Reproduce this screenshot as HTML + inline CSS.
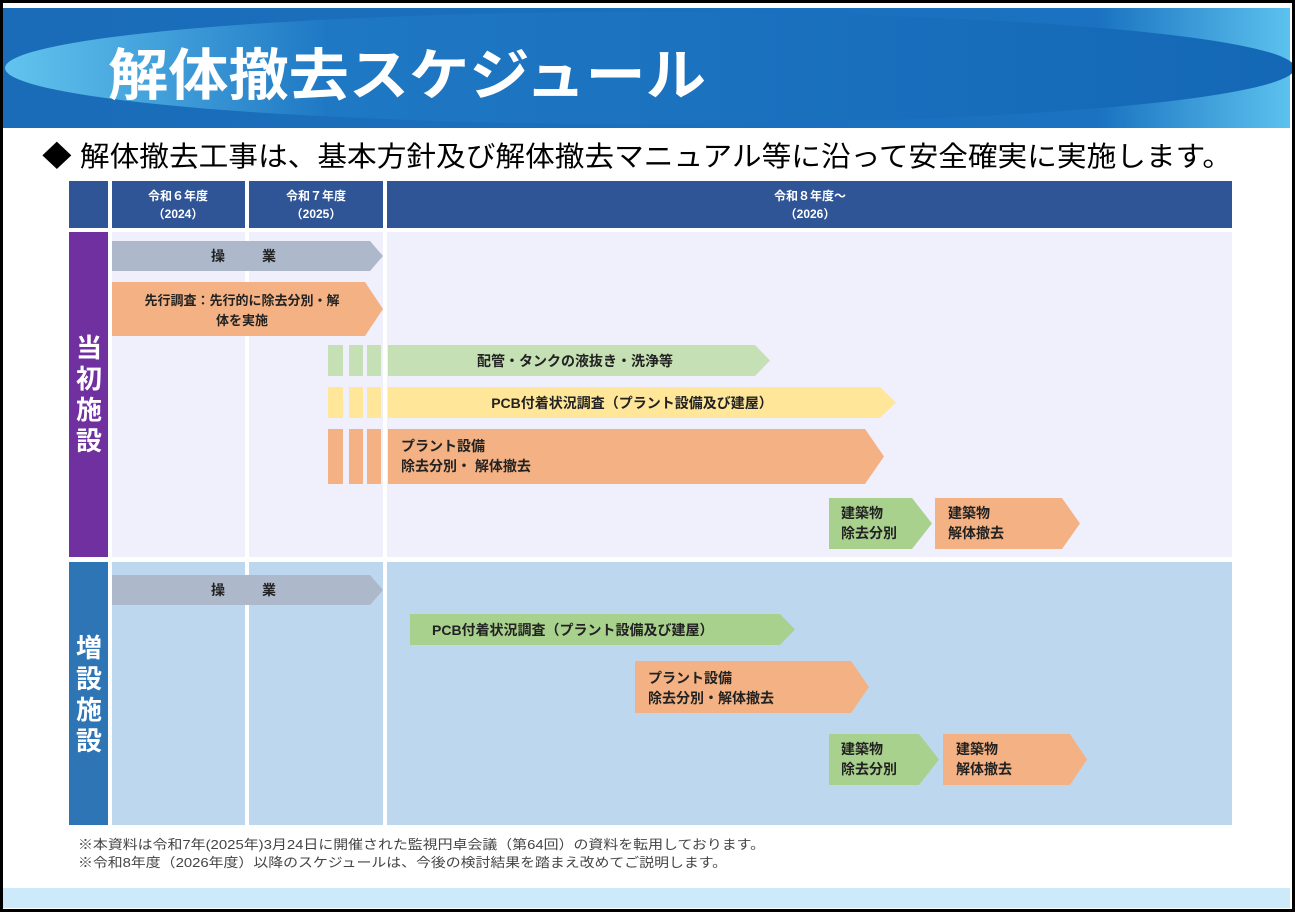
<!DOCTYPE html>
<html><head><meta charset="utf-8"><style>
html,body{margin:0;padding:0;background:#fff;}
svg{display:block;}
text{font-family:"Liberation Sans","Noto Sans CJK JP",sans-serif;}
</style></head><body>
<svg width="1295" height="912" viewBox="0 0 1295 912" xmlns="http://www.w3.org/2000/svg">
<defs>
<linearGradient id="bg" x1="0" x2="1" y1="0" y2="0">
<stop offset="0" stop-color="#1a6cb8"/><stop offset="0.85" stop-color="#1a72c0"/><stop offset="1" stop-color="#5cc2ee"/>
</linearGradient>
<linearGradient id="el" x1="0" x2="1" y1="0" y2="0">
<stop offset="0" stop-color="#62c4ee"/><stop offset="0.25" stop-color="#1f78c4"/><stop offset="1" stop-color="#1468b6"/>
</linearGradient>
</defs>
<rect x="0" y="0" width="1295" height="912" fill="#fff"/>
<rect x="3" y="8" width="1287" height="120" fill="url(#bg)"/>
<ellipse cx="650" cy="68" rx="645" ry="56" fill="url(#el)"/>
<text x="108" y="95" font-size="56" font-weight="bold" fill="#fff" textLength="598" lengthAdjust="spacingAndGlyphs">解体撤去スケジュール</text>
<text x="42" y="166" font-size="28" fill="#000" textLength="1190" lengthAdjust="spacingAndGlyphs">◆ 解体撤去工事は、基本方針及び解体撤去マニュアル等に沿って安全確実に実施します。</text>

<rect x="69" y="181" width="39" height="47" fill="#2f5597"/>
<rect x="112" y="181" width="133" height="47" fill="#2f5597"/>
<rect x="249" y="181" width="134" height="47" fill="#2f5597"/>
<rect x="387" y="181" width="845" height="47" fill="#2f5597"/>
<g fill="#fff" font-size="12" font-weight="bold" text-anchor="middle">
<text x="178" y="200">令和６年度</text><text x="178" y="218">（2024）</text>
<text x="316" y="200">令和７年度</text><text x="316" y="218">（2025）</text>
<text x="810" y="200">令和８年度～</text><text x="810" y="218">（2026）</text>
</g>

<rect x="69" y="232" width="39" height="325" fill="#7030a0"/>
<rect x="112" y="232" width="133" height="325" fill="#f0effc"/>
<rect x="249" y="232" width="134" height="325" fill="#f0effc"/>
<rect x="387" y="232" width="845" height="325" fill="#f0effc"/>
<g fill="#fff" font-size="26" font-weight="bold" text-anchor="middle">
<text x="89" y="357">当</text><text x="89" y="388">初</text><text x="89" y="419">施</text><text x="89" y="450">設</text>
</g>
<rect x="69" y="562" width="39" height="263" fill="#2e75b6"/>
<rect x="112" y="562" width="133" height="263" fill="#bdd7ee"/>
<rect x="249" y="562" width="134" height="263" fill="#bdd7ee"/>
<rect x="387" y="562" width="845" height="263" fill="#bdd7ee"/>
<g fill="#fff" font-size="26" font-weight="bold" text-anchor="middle">
<text x="89" y="657">増</text><text x="89" y="688">設</text><text x="89" y="719">施</text><text x="89" y="750">設</text>
</g>

<polygon points="112,241 370,241 383,256 370,271 112,271" fill="#adb9ca"/>
<text x="211" y="261" font-size="14" font-weight="bold" fill="#222">操</text>
<text x="262" y="261" font-size="14" font-weight="bold" fill="#222">業</text>

<polygon points="112,282 365,282 383,309 365,336 112,336" fill="#f4b183"/>
<text x="242" y="305" font-size="13" font-weight="bold" fill="#222" text-anchor="middle">先行調査：先行的に除去分別・解</text>
<text x="242" y="325" font-size="13" font-weight="bold" fill="#222" text-anchor="middle">体を実施</text>

<g fill="#c5e0b4"><rect x="328" y="345" width="15" height="31"/><rect x="349" y="345" width="14" height="31"/><rect x="367" y="345" width="14" height="31"/>
<polygon points="388,345 755,345 770,360.5 755,376 388,376"/></g>
<text x="575" y="366" font-size="14" font-weight="bold" fill="#222" text-anchor="middle">配管・タンクの液抜き・洗浄等</text>

<g fill="#ffe699"><rect x="328" y="387" width="15" height="31"/><rect x="349" y="387" width="14" height="31"/><rect x="367" y="387" width="14" height="31"/>
<polygon points="388,387 880,387 896,402.5 880,418 388,418"/></g>
<text x="632" y="408" font-size="14" font-weight="bold" fill="#222" text-anchor="middle">PCB付着状況調査（プラント設備及び建屋）</text>

<g fill="#f4b183"><rect x="328" y="429" width="15" height="55"/><rect x="349" y="429" width="14" height="55"/><rect x="367" y="429" width="14" height="55"/>
<polygon points="388,429 865,429 884,456.5 865,484 388,484"/></g>
<text x="401" y="451" font-size="14" font-weight="bold" fill="#222">プラント設備</text>
<text x="401" y="471" font-size="14" font-weight="bold" fill="#222">除去分別・ 解体撤去</text>

<polygon points="829,498 912,498 932,523.5 912,549 829,549" fill="#a9d18e"/>
<text x="841" y="518" font-size="14" font-weight="bold" fill="#222">建築物</text>
<text x="841" y="538" font-size="14" font-weight="bold" fill="#222">除去分別</text>
<polygon points="935,498 1062,498 1080,523.5 1062,549 935,549" fill="#f4b183"/>
<text x="948" y="518" font-size="14" font-weight="bold" fill="#222">建築物</text>
<text x="948" y="538" font-size="14" font-weight="bold" fill="#222">解体撤去</text>

<polygon points="112,575 370,575 383,590 370,605 112,605" fill="#adb9ca"/>
<text x="211" y="595" font-size="14" font-weight="bold" fill="#222">操</text>
<text x="262" y="595" font-size="14" font-weight="bold" fill="#222">業</text>

<polygon points="410,614 780,614 795,629.5 780,645 410,645" fill="#a9d18e"/>
<text x="432" y="635" font-size="14" font-weight="bold" fill="#222">PCB付着状況調査（プラント設備及び建屋）</text>

<polygon points="635,661 851,661 869,687 851,713 635,713" fill="#f4b183"/>
<text x="648" y="683" font-size="14" font-weight="bold" fill="#222">プラント設備</text>
<text x="648" y="703" font-size="14" font-weight="bold" fill="#222">除去分別・解体撤去</text>

<polygon points="829,734 919,734 939,759.5 919,785 829,785" fill="#a9d18e"/>
<text x="841" y="754" font-size="14" font-weight="bold" fill="#222">建築物</text>
<text x="841" y="774" font-size="14" font-weight="bold" fill="#222">除去分別</text>
<polygon points="943,734 1070,734 1087,759.5 1070,785 943,785" fill="#f4b183"/>
<text x="956" y="754" font-size="14" font-weight="bold" fill="#222">建築物</text>
<text x="956" y="774" font-size="14" font-weight="bold" fill="#222">解体撤去</text>

<text x="78" y="849" font-size="13" fill="#444" textLength="687" lengthAdjust="spacingAndGlyphs">※本資料は令和7年(2025年)3月24日に開催された監視円卓会議（第64回）の資料を転用しております。</text>
<text x="78" y="867" font-size="13" fill="#444" textLength="649" lengthAdjust="spacingAndGlyphs">※令和8年度（2026年度）以降のスケジュールは、今後の検討結果を踏まえ改めてご説明します。</text>

<rect x="3" y="888" width="1287" height="20" fill="#cdeafb"/>
<rect x="1.5" y="1.5" width="1292" height="909" fill="none" stroke="#000" stroke-width="3"/>
</svg>
</body></html>
